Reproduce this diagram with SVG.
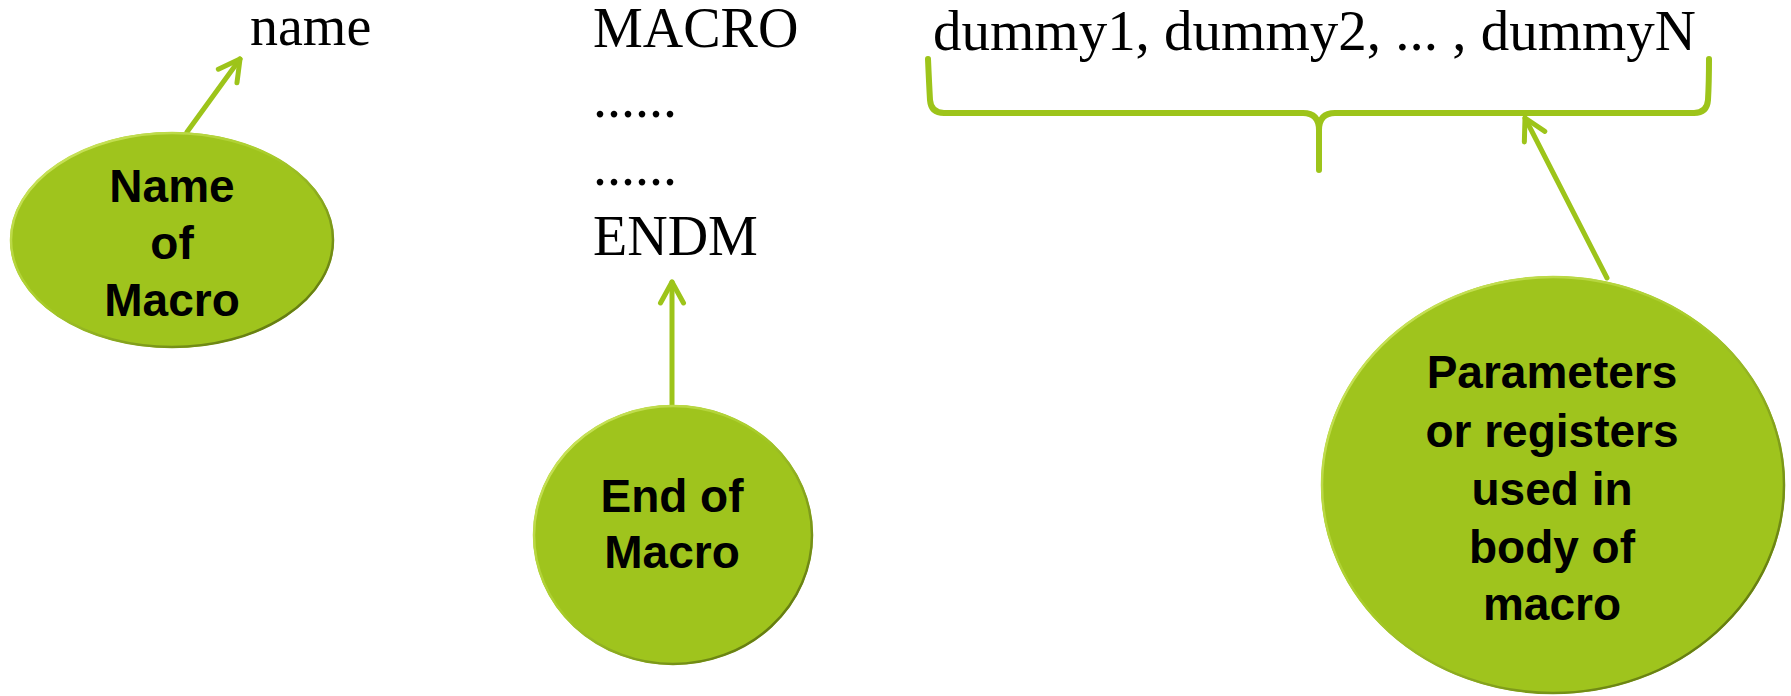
<svg xmlns="http://www.w3.org/2000/svg" width="1791" height="696" viewBox="0 0 1791 696">
  <style>
    .code { font-family: "Liberation Serif", "Times New Roman", serif; font-size: 56px; fill: #000; }
    .lbl { font-family: "Liberation Sans", Arial, sans-serif; font-weight: bold; font-size: 46px; fill: #000; text-anchor: middle; }
    .bubble { fill: #9FC41D; }
    .rim { fill: none; stroke: url(#rimGrad); stroke-width: 2.5; }
    .conn { fill: none; stroke: #9DC41A; stroke-width: 5; stroke-linecap: round; stroke-linejoin: round; }
    .brace { fill: none; stroke: #9DC41A; stroke-width: 6; stroke-linecap: round; stroke-linejoin: round; }
  </style>
  <defs>
    <linearGradient id="rimGrad" x1="0" y1="0" x2="1" y2="1">
      <stop offset="0" stop-color="#D4EA6A"/>
      <stop offset="0.45" stop-color="#A8CC2A"/>
      <stop offset="1" stop-color="#4E6208"/>
    </linearGradient>
    <marker id="chev" markerUnits="userSpaceOnUse" viewBox="-26 -15 30 30" refX="0" refY="0" markerWidth="30" markerHeight="30" orient="auto">
      <path d="M -21 -11.5 L 0 0 L -21 11.5" fill="none" stroke="#9DC41A" stroke-width="5" stroke-linecap="round" stroke-linejoin="round"/>
    </marker>
  </defs>
  <rect width="1791" height="696" fill="#fff"/>

  <g id="code">
    <text class="code" x="250" y="45">name</text>
    <text class="code" x="593" y="47">MACRO</text>
    <text class="code" x="593" y="117">......</text>
    <text class="code" x="593" y="185">......</text>
    <text class="code" x="593" y="255">ENDM</text>
    <text class="code" x="933" y="50" textLength="763" lengthAdjust="spacingAndGlyphs">dummy1, dummy2, ... , dummyN</text>
  </g>

  <g id="connectors">
    <path class="brace" d="M 928 59 Q 929 82 930 100 Q 931 113 944 113 L 1303 113 Q 1319 113 1319 130 L 1319 170 M 1319 130 Q 1319 113 1335 113 L 1694 113 Q 1707 113 1708 100 Q 1709 82 1709 59"/>
    <line class="conn" x1="187" y1="132" x2="240" y2="59" marker-end="url(#chev)"/>
    <line class="conn" x1="672" y1="405" x2="672" y2="282" marker-end="url(#chev)"/>
    <line class="conn" x1="1607" y1="278" x2="1525" y2="118" marker-end="url(#chev)"/>
  </g>

  <g id="node-name-of-macro">
    <ellipse class="bubble" cx="172" cy="240" rx="162" ry="108"/>
    <ellipse class="rim" cx="172" cy="240" rx="161" ry="107"/>
    <text class="lbl" x="172" y="202">Name</text>
    <text class="lbl" x="172" y="259">of</text>
    <text class="lbl" x="172" y="316">Macro</text>
  </g>

  <g id="node-end-of-macro">
    <ellipse class="bubble" cx="673" cy="535" rx="140" ry="130"/>
    <ellipse class="rim" cx="673" cy="535" rx="139" ry="129"/>
    <text class="lbl" x="672" y="512">End of</text>
    <text class="lbl" x="672" y="568">Macro</text>
  </g>

  <g id="node-parameters">
    <ellipse class="bubble" cx="1553" cy="485" rx="232" ry="209"/>
    <ellipse class="rim" cx="1553" cy="485" rx="231" ry="208"/>
    <text class="lbl" x="1552" y="388">Parameters</text>
    <text class="lbl" x="1552" y="447">or registers</text>
    <text class="lbl" x="1552" y="505">used in</text>
    <text class="lbl" x="1552" y="563">body of</text>
    <text class="lbl" x="1552" y="620">macro</text>
  </g>
</svg>
